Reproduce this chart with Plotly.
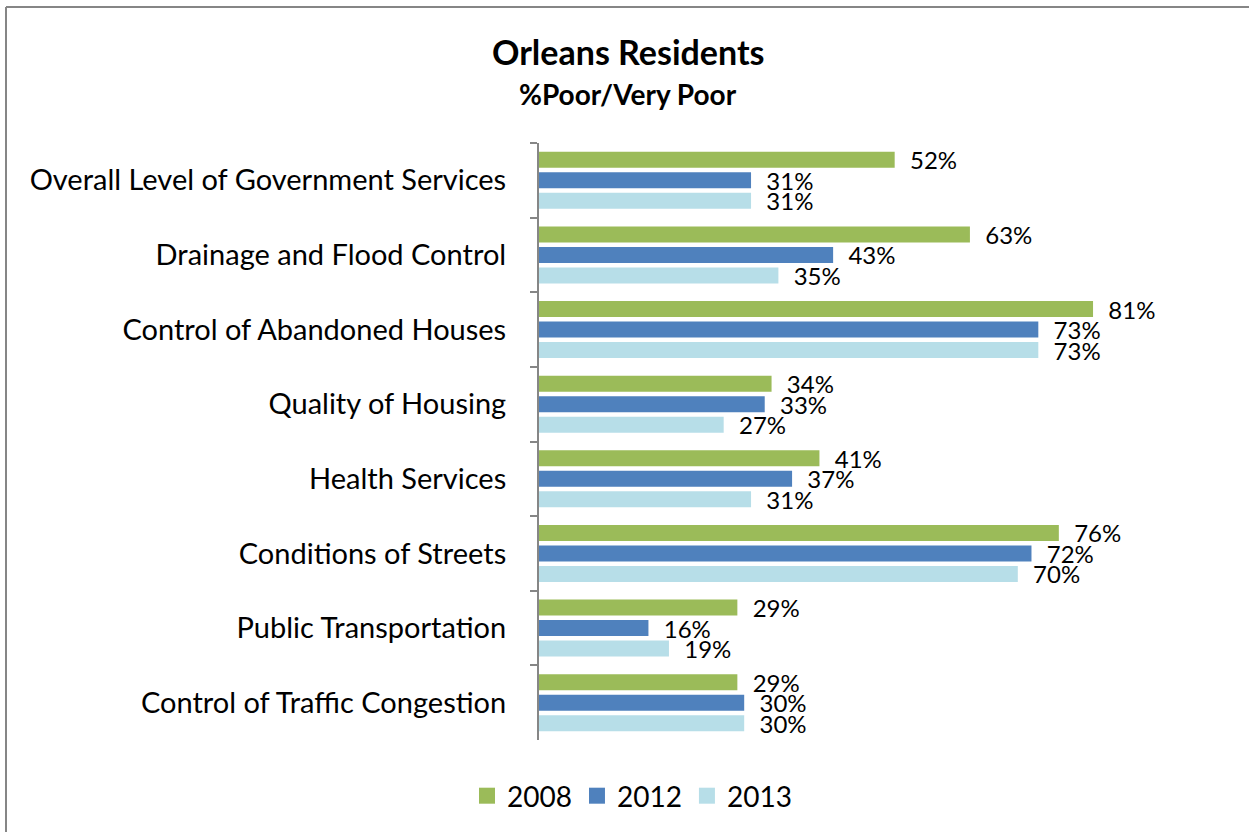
import plotly.graph_objects as go

categories = [
    "Overall Level of Government Services",
    "Drainage and Flood Control",
    "Control of Abandoned Houses",
    "Quality of Housing",
    "Health Services",
    "Conditions of Streets",
    "Public Transportation",
    "Control of Traffic Congestion",
]
series_names = ["2008", "2012", "2013"]
values_2008 = [52, 63, 81, 34, 41, 76, 29, 29]
values_2012 = [31, 43, 73, 33, 37, 72, 16, 30]
values_2013 = [31, 35, 73, 27, 31, 70, 19, 30]
colors = ["#9BBB59", "#4F81BD", "#B7DEE8"]

FONT = "Lato"
W, H = 1249, 832
L, R, T, B = 539, 26, 143, 92
pw, ph = W - L - R, H - T - B

fig = go.Figure()
for name, vals, col in zip(series_names, [values_2008, values_2012, values_2013], colors):
    fig.add_trace(go.Bar(
        y=categories, x=vals, name=name, orientation="h",
        marker=dict(color=col, line=dict(width=0)),
        text=[f"  {v}%" for v in vals],
        textposition="outside", cliponaxis=False, constraintext="none",
        textfont=dict(family=FONT, size=24, color="#000000"),
        hoverinfo="x+y", showlegend=False,
    ))
# legend entries (square markers)
for name, col in zip(series_names, colors):
    fig.add_trace(go.Scatter(
        x=[None], y=[None], mode="markers", name=name,
        marker=dict(symbol="square", size=18, color=col),
        showlegend=True,
    ))

def px_to_paper_x(px):
    return (px - L) / pw

def py_to_paper_y(py):
    return (H - B - py) / ph

fig.update_layout(
    width=W, height=H,
    margin=dict(l=L, r=R, t=T, b=B, autoexpand=False),
    paper_bgcolor="white", plot_bgcolor="white",
    barmode="group", bargap=0.175, bargroupgap=0.22,
    font=dict(family=FONT, color="#000000"),
    showlegend=True,
    legend=dict(
        orientation="h", x=px_to_paper_x(632), xanchor="center",
        y=py_to_paper_y(796), yanchor="middle",
        font=dict(family=FONT, size=28), itemwidth=30, traceorder="normal",
        itemsizing="trace", tracegroupgap=0,
    ),
    xaxis=dict(range=[0, 100], visible=False, fixedrange=True),
    yaxis=dict(
        autorange="reversed", showline=True, linecolor="#868686", linewidth=2,
        ticks="outside", tickson="boundaries", ticklen=7, tickcolor="#868686", tickwidth=2,
        tickfont=dict(family=FONT, size=29, color="#000000"),
        showgrid=False, zeroline=False, ticklabelstandoff=25, fixedrange=True,
    ),
    annotations=[
        dict(text="<b>Orleans Residents</b>", xref="paper", yref="paper",
             x=px_to_paper_x(628), y=py_to_paper_y(52), xanchor="center", yanchor="middle",
             showarrow=False, font=dict(family=FONT, size=34, color="#000000")),
        dict(text="<b>%Poor/Very Poor</b>", xref="paper", yref="paper",
             x=px_to_paper_x(628), y=py_to_paper_y(94), xanchor="center", yanchor="middle",
             showarrow=False, font=dict(family=FONT, size=28, color="#000000")),
    ],
    shapes=[
        dict(type="line", xref="paper", yref="paper",
             x0=px_to_paper_x(6), x1=px_to_paper_x(1260), y0=py_to_paper_y(7), y1=py_to_paper_y(7),
             line=dict(color="#868686", width=2)),
        dict(type="line", xref="paper", yref="paper",
             x0=px_to_paper_x(6), x1=px_to_paper_x(6), y0=py_to_paper_y(7), y1=py_to_paper_y(840),
             line=dict(color="#868686", width=2)),
    ],
)

fig.write_html("out.html", config={"displayModeBar": False},
               post_script="document.body.style.margin='0px';")
